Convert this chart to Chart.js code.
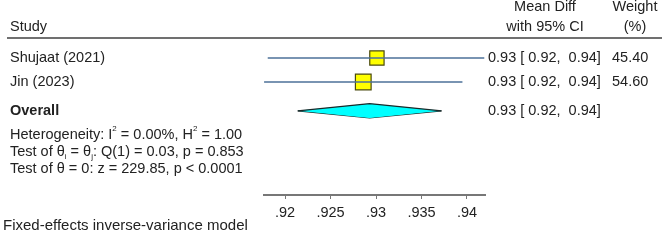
<!DOCTYPE html>
<html>
<head>
<meta charset="utf-8">
<script src="https://cdn.jsdelivr.net/npm/chart.js@4.4.0/dist/chart.umd.min.js"></script>
<style>
  html, body { margin: 0; padding: 0; background: #fff; }
  #forest { display: block; }
</style>
</head>
<body>
<canvas id="forest" width="666" height="241"></canvas>
<script>
// studies
const studies = ['Shujaat (2021)', 'Jin (2023)'];
const meanDiff = [0.9301, 0.9286];
const ciLow = [0.9181, 0.9177];
const ciHigh = [0.9419, 0.9395];
const weights = [45.40, 54.60];
const effectText = ['0.93 [ 0.92,  0.94]', '0.93 [ 0.92,  0.94]'];

// overall (fixed effects)
const overallEst = [0.9293];
const overallLow = [0.9214];
const overallHigh = [0.9372];
const overallText = ['0.93 [ 0.92,  0.94]'];

// x axis
const tickValues = [0.92, 0.925, 0.93, 0.935, 0.94];
const tickLabels = ['.92', '.925', '.93', '.935', '.94'];

// row slots on the (hidden) y axis
const studyRows = [1, 2];
const overallRow = 3.2;

const FONT = '"Liberation Sans", Arial, Helvetica, sans-serif';
const TXT = '#222';
const SIZE = 14.5;

// one line dataset per CI
const ciSets = studies.map((s, i) => ({
  type: 'scatter',
  label: s + ' CI',
  data: [{ x: ciLow[i], y: studyRows[i] }, { x: ciHigh[i], y: studyRows[i] }],
  showLine: true,
  borderColor: '#4d7198',
  borderWidth: 1.5,
  pointRadius: 0,
  clip: false
}));

// boxes, area ~ weight
const boxSet = {
  type: 'scatter',
  label: 'estimate',
  data: studies.map((s, i) => ({ x: meanDiff[i], y: studyRows[i] })),
  pointStyle: 'rect',
  pointRadius: weights.map(w => 11.1 * Math.sqrt(w / 54.6)),
  backgroundColor: '#ffff00',
  borderColor: '#4a4a10',
  borderWidth: 1.2,
  clip: false
};

// diamond as two halves filled between
const half = 0.3;
const diamondTop = {
  type: 'scatter',
  label: 'overall top',
  data: [
    { x: overallLow[0], y: overallRow },
    { x: overallEst[0], y: overallRow - half },
    { x: overallHigh[0], y: overallRow }
  ],
  showLine: true,
  borderColor: '#1a2a2a',
  borderWidth: 1.2,
  pointRadius: 0,
  backgroundColor: '#00ffff',
  fill: '+1',
  clip: false
};
const diamondBottom = {
  type: 'scatter',
  label: 'overall bottom',
  data: [
    { x: overallLow[0], y: overallRow },
    { x: overallEst[0], y: overallRow + half },
    { x: overallHigh[0], y: overallRow }
  ],
  showLine: true,
  borderColor: '#1a2a2a',
  borderWidth: 1.2,
  pointRadius: 0,
  fill: false,
  clip: false
};

// draw a string made of normal / sup / sub pieces
function richText(ctx, x, y, parts, size) {
  let cx = x;
  parts.forEach(p => {
    const small = p.sup || p.sub;
    ctx.font = (small ? size * 0.55 : size) + 'px ' + FONT;
    const dy = p.sup ? -size * 0.4 : p.sub ? size * 0.3 : 0;
    ctx.fillText(p.t, cx, y + dy);
    cx += ctx.measureText(p.t).width;
  });
}

const tablePlugin = {
  id: 'forestTable',
  afterDraw(chart) {
    const ctx = chart.ctx;
    const ys = chart.scales.y;
    ctx.save();
    ctx.fillStyle = TXT;
    ctx.textBaseline = 'middle';

    // headers
    ctx.font = SIZE + 'px ' + FONT;
    ctx.textAlign = 'left';
    ctx.fillText('Study', 10, 27);
    ctx.textAlign = 'center';
    ctx.fillText('Mean Diff', 545, 7);
    ctx.fillText('with 95% CI', 545, 27);
    ctx.fillText('Weight', 635, 7);
    ctx.fillText('(%)', 635, 27);

    ctx.strokeStyle = '#707070';
    ctx.lineWidth = 2;
    ctx.beginPath();
    ctx.moveTo(7, 38);
    ctx.lineTo(662, 38);
    ctx.stroke();

    // study rows
    ctx.textAlign = 'left';
    studies.forEach((s, i) => {
      const y = ys.getPixelForValue(studyRows[i]);
      ctx.font = SIZE + 'px ' + FONT;
      ctx.fillText(s, 10, y);
      ctx.fillText(effectText[i], 488, y);
      ctx.fillText(weights[i].toFixed(2), 612, y);
    });

    // overall row
    const oy = ys.getPixelForValue(overallRow);
    ctx.font = 'bold ' + SIZE + 'px ' + FONT;
    ctx.fillText('Overall', 10, oy);
    ctx.font = SIZE + 'px ' + FONT;
    ctx.fillText(overallText[0], 488, oy);

    // stats
    richText(ctx, 10, 135, [
      { t: 'Heterogeneity: I' }, { t: '2', sup: true }, { t: ' = 0.00%, H' }, { t: '2', sup: true }, { t: ' = 1.00' }
    ], SIZE);
    richText(ctx, 10, 152, [
      { t: 'Test of \u03b8' }, { t: 'i', sub: true }, { t: ' = \u03b8' }, { t: 'j', sub: true }, { t: ': Q(1) = 0.03, p = 0.853' }
    ], SIZE);
    richText(ctx, 10, 169, [{ t: 'Test of \u03b8 = 0: z = 229.85, p < 0.0001' }], SIZE);

    ctx.font = '15px ' + FONT;
    ctx.fillText('Fixed-effects inverse-variance model', 3, 226);
    ctx.restore();
  }
};

new Chart(document.getElementById('forest'), {
  type: 'scatter',
  data: { datasets: [...ciSets, diamondTop, diamondBottom, boxSet] },
  options: {
    responsive: false,
    animation: false,
    events: [],
    layout: { padding: { left: 264, right: 181, top: 40, bottom: 0 } },
    plugins: { legend: { display: false }, tooltip: { enabled: false } },
    scales: {
      x: {
        type: 'linear',
        min: 0.91769,
        max: 0.94198,
        afterBuildTicks: s => { s.ticks = tickValues.map(v => ({ value: v })); },
        afterFit: s => { s.height = 46; },
        ticks: {
          autoSkip: false,
          maxRotation: 0,
          padding: 5,
          color: TXT,
          font: { family: FONT, size: SIZE },
          callback: (v) => tickLabels[tickValues.indexOf(v)]
        },
        grid: { drawOnChartArea: false, drawTicks: true, tickLength: 4, color: '#777', lineWidth: 1 },
        border: { display: true, color: '#777', width: 2 }
      },
      y: {
        type: 'linear',
        display: false,
        reverse: true,
        min: 0.25,
        max: 6.71
      }
    }
  },
  plugins: [tablePlugin]
});
</script>
</body>
</html>
